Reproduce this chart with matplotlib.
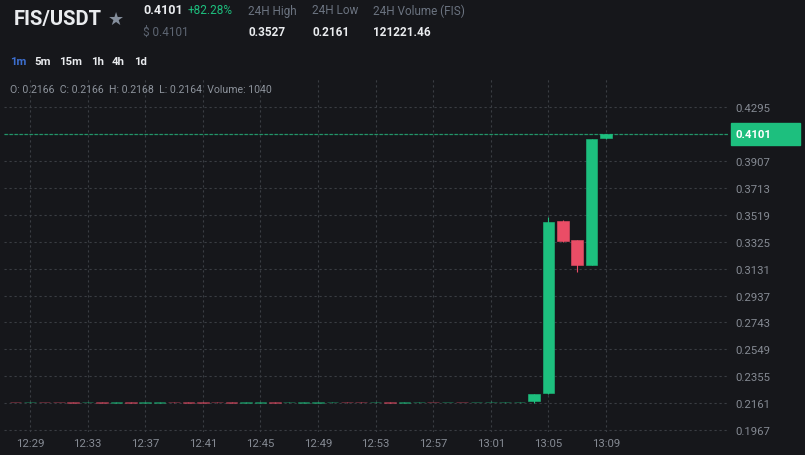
import numpy as np
import matplotlib
matplotlib.use("Agg")
import matplotlib.pyplot as plt
from matplotlib.patches import Rectangle
from matplotlib.transforms import blended_transform_factory

plt.rcParams.update({"font.family": ["Roboto", "DejaVu Sans"], "font.size": 8})

BG = "#16171b"
GREEN = "#1dbf7e"
RED = "#ea4d66"
GRID = "#3a3d43"
TXT = "#858a93"

# 1-minute candles
times = ["12:28", "12:29", "12:30", "12:31", "12:32", "12:33", "12:34", "12:35",
         "12:36", "12:37", "12:38", "12:39", "12:40", "12:41", "12:42", "12:43",
         "12:44", "12:45", "12:46", "12:47", "12:48", "12:49", "12:50", "12:51",
         "12:52", "12:53", "12:54", "12:55", "12:56", "12:57", "12:58", "12:59",
         "13:00", "13:01", "13:02", "13:03", "13:04", "13:05", "13:06", "13:07",
         "13:08", "13:09"]
opens = [0.2169, 0.2166, 0.2169, 0.2169, 0.2169, 0.2166, 0.2167, 0.2164,
         0.2167, 0.2164, 0.2165, 0.2167, 0.2168, 0.2168, 0.2167, 0.2168,
         0.2164, 0.2164, 0.2167, 0.2166, 0.2165, 0.2165, 0.2166, 0.2167,
         0.2167, 0.2166, 0.2168, 0.2165, 0.2166, 0.2168, 0.2168, 0.2171,
         0.2168, 0.2169, 0.2166, 0.2166, 0.2178, 0.2232, 0.3476, 0.3337,
         0.3157, 0.4070]
closes = [0.2167, 0.2166, 0.2167, 0.2167, 0.2165, 0.2166, 0.2164, 0.2167,
          0.2164, 0.2167, 0.2166, 0.2166, 0.2165, 0.2165, 0.2166, 0.2165,
          0.2167, 0.2167, 0.2164, 0.2166, 0.2166, 0.2166, 0.2166, 0.2166,
          0.2166, 0.2166, 0.2165, 0.2167, 0.2166, 0.2167, 0.2171, 0.2168,
          0.2170, 0.2172, 0.2166, 0.2166, 0.2229, 0.3469, 0.3332, 0.3157,
          0.4065, 0.4101]
highs = [0.2170, 0.2167, 0.2170, 0.2170, 0.2170, 0.2167, 0.2168, 0.2168,
         0.2168, 0.2168, 0.2167, 0.2168, 0.2169, 0.2169, 0.2168, 0.2169,
         0.2168, 0.2168, 0.2168, 0.2167, 0.2167, 0.2167, 0.2167, 0.2168,
         0.2168, 0.2167, 0.2169, 0.2168, 0.2167, 0.2169, 0.2172, 0.2172,
         0.2171, 0.2173, 0.2168, 0.2168, 0.2230, 0.3500, 0.3478, 0.3338,
         0.4066, 0.4101]
lows = [0.2166, 0.2165, 0.2166, 0.2166, 0.2164, 0.2165, 0.2163, 0.2163,
        0.2163, 0.2163, 0.2164, 0.2165, 0.2164, 0.2164, 0.2165, 0.2164,
        0.2163, 0.2163, 0.2163, 0.2165, 0.2164, 0.2164, 0.2164, 0.2165,
        0.2165, 0.2164, 0.2164, 0.2164, 0.2164, 0.2166, 0.2167, 0.2167,
        0.2167, 0.2168, 0.2164, 0.2164, 0.2161, 0.2230, 0.3323, 0.3106,
        0.3155, 0.4068]
last_price = 0.4101

x_labels = ["12:29", "12:33", "12:37", "12:41", "12:45", "12:49", "12:53",
            "12:57", "13:01", "13:05", "13:09"]
y_ticks = [0.4295, 0.4101, 0.3907, 0.3713, 0.3519, 0.3325, 0.3131, 0.2937,
           0.2743, 0.2549, 0.2355, 0.2161, 0.1967]
intervals = ["1m", "5m", "15m", "1h", "4h", "1d"]


def minutes(t):
    h, m = t.split(":")
    return int(h) * 60 + int(m) - (12 * 60 + 29)


W, H = 805, 456
fig = plt.figure(figsize=(W / 100, H / 100), dpi=100, facecolor=BG)
ax = fig.add_axes([4 / W, 1 - 433 / H, 724 / W, 355 / H], facecolor=BG)

x = np.array([minutes(t) for t in times])
o = np.array(opens); c = np.array(closes)
hi = np.array(highs); lo = np.array(lows)
cols = [GREEN if cc >= oo else RED for oo, cc in zip(o, c)]
# the flat pre-pump candles look faint at this scale
alphas = [0.6 if h - l < 0.001 else 1.0 for h, l in zip(hi, lo)]

for xi, oo, cc, h, l, col, a in zip(x, o, c, hi, lo, cols, alphas):
    ax.vlines(xi, l, h, colors=col, lw=0.8, alpha=a, zorder=3)
    ax.bar(xi, max(abs(cc - oo), 0.00005), bottom=min(oo, cc), width=0.8,
           color=col, edgecolor=col, lw=0.4, alpha=a, zorder=4)

# last price line + tag
ax.axhline(last_price, color=GREEN, lw=0.9, ls=(0, (3, 1)), alpha=0.7, zorder=2)
tr = blended_transform_factory(ax.transAxes, ax.transData)
ax.add_patch(Rectangle((1.004, last_price - 0.0079), 0.0953, 0.0159, transform=tr,
                       color=GREEN, clip_on=False, zorder=6))
ax.text(1.011, last_price, f"{last_price:.4f}", transform=tr, color="white",
        fontsize=8.2, fontweight="bold", va="center", ha="left", zorder=7)

ax.set_xlim((4 - 30) / 14.4, (728 - 30) / 14.4)
ax.set_ylim(0.19526, 0.45128)
ax.set_xticks([minutes(t) for t in x_labels])
ax.set_xticklabels(x_labels)
ax.set_yticks(y_ticks)
ax.set_yticklabels(["" if v == last_price else f"{v:.4f}" for v in y_ticks])
ax.yaxis.tick_right()
ax.tick_params(length=0, colors=TXT, labelsize=8.2)
ax.tick_params(axis="y", pad=5)
ax.tick_params(axis="x", pad=4)
ax.grid(True, color=GRID, lw=0.8, ls=(0, (2, 2.5)))
ax.set_axisbelow(True)
for s in ax.spines.values():
    s.set_visible(False)


def ftxt(px, py, s, **kw):
    fig.text(px / W, 1 - py / H, s, va="center", ha="left", **kw)


# header
ftxt(14, 20, "FIS/USDT", color="#eaecef", fontsize=14.5, fontweight="bold")
ftxt(108, 20, "★", color="#848e9c", fontsize=13, family="DejaVu Sans")
ftxt(143, 11, "0.4101", color="#eaecef", fontsize=9, fontweight="bold")
ftxt(188, 11, "+82.28%", color=GREEN, fontsize=8.5)
ftxt(143, 32, "$ 0.4101", color="#5e6673", fontsize=8.5)
ftxt(248, 11, "24H High", color="#6b7380", fontsize=8.5)
ftxt(248, 32, "0.3527", color="#eaecef", fontsize=8.5, fontweight="bold")
ftxt(312, 11, "24H Low", color="#6b7380", fontsize=8.5)
ftxt(312, 32, "0.2161", color="#eaecef", fontsize=8.5, fontweight="bold")
ftxt(373, 11, "24H Volume (FIS)", color="#6b7380", fontsize=8.5)
ftxt(373, 32, "121221.46", color="#eaecef", fontsize=8.5, fontweight="bold")

xs = [10, 34, 59, 91, 112, 134]
for px, lab in zip(xs, intervals):
    ftxt(px, 62, lab, color="#3d6fd0" if lab == "1m" else "#eaecef",
         fontsize=8.2, fontweight="bold")

ftxt(10, 90, "O: 0.2166  C: 0.2166  H: 0.2168  L: 0.2164  Volume: 1040",
     color="#8d939c", fontsize=7.6)

fig.savefig("out.png", dpi=100, facecolor=BG)
